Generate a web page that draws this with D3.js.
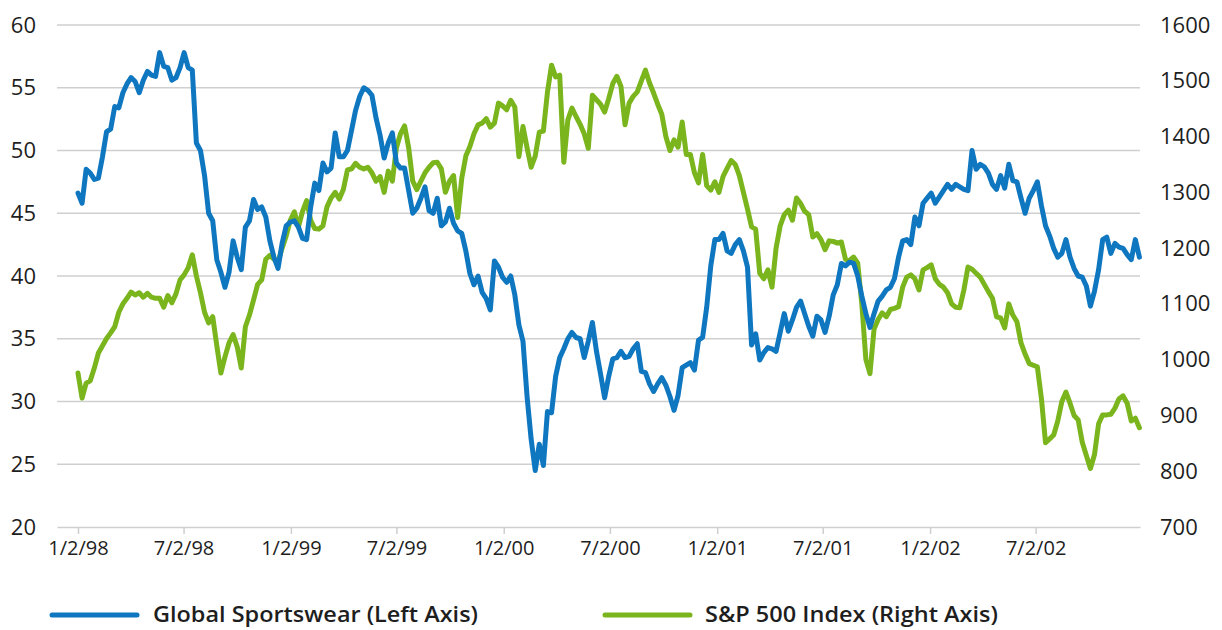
<!DOCTYPE html>
<html>
<head>
<meta charset="utf-8">
<script src="https://cdn.jsdelivr.net/npm/d3@7"></script>
<style>
  html, body { margin: 0; padding: 0; background: #fff; }
  svg { display: block; font-family: "Open Sans", "Noto Sans", sans-serif; }
</style>
</head>
<body>
<svg id="chart" width="1222" height="630"></svg>
<script>
// ---- Data (weekly closes, first week 1998-01-02) ----
const startDate = "1998-01-02";
const seriesNames = ["Global Sportswear (Left Axis)", "S&P 500 Index (Right Axis)"];
const leftTicks = [20, 25, 30, 35, 40, 45, 50, 55, 60];
const rightTicks = [700, 800, 900, 1000, 1100, 1200, 1300, 1400, 1500, 1600];
const xTickLabels = ["1/2/98", "7/2/98", "1/2/99", "7/2/99", "1/2/00", "7/2/00", "1/2/01", "7/2/01", "1/2/02", "7/2/02"];

const sportswear = [
  46.6, 45.8, 48.5, 48.2, 47.7, 47.8, 49.5, 51.5, 51.7, 53.5,
  53.4, 54.6, 55.3, 55.8, 55.5, 54.6, 55.6, 56.3, 56.0, 55.9,
  57.8, 56.7, 56.6, 55.6, 55.8, 56.6, 57.8, 56.6, 56.4, 50.6,
  50.0, 48.0, 45.0, 44.4, 41.3, 40.3, 39.1, 40.3, 42.8, 41.5,
  40.5, 43.9, 44.4, 46.1, 45.3, 45.5, 44.7, 42.8, 41.5, 40.6,
  42.6, 44.0, 44.3, 44.4, 43.9, 43.0, 42.9, 45.5, 47.4, 46.8,
  49.0, 48.3, 48.6, 51.4, 49.5, 49.5, 50.0, 51.6, 53.2, 54.3,
  55.0, 54.8, 54.4, 52.6, 51.2, 49.4, 50.6, 51.4, 49.0, 48.6,
  48.6, 46.8, 45.0, 45.4, 46.2, 47.1, 45.2, 45.0, 46.2, 44.0,
  44.3, 45.4, 44.2, 43.6, 43.4, 42.0, 40.2, 39.3, 40.0, 38.7,
  38.2, 37.3, 41.2, 40.7, 39.9, 39.5, 40.0, 38.5, 36.1, 34.8,
  30.4, 27.0, 24.5, 26.6, 24.9, 29.2, 29.1, 32.0, 33.5, 34.2,
  35.0, 35.5, 35.1, 35.0, 33.5, 34.8, 36.3, 34.0, 32.2, 30.3,
  32.0, 33.4, 33.5, 34.0, 33.5, 33.6, 34.2, 34.6, 32.4, 32.3,
  31.4, 30.8, 31.4, 31.9, 31.3, 30.4, 29.3, 30.5, 32.7, 32.9,
  33.1, 32.5, 34.9, 35.1, 37.5, 40.8, 42.9, 42.9, 43.4, 42.0,
  41.8, 42.5, 42.9, 42.0, 40.7, 34.5, 35.4, 33.3, 33.9, 34.3,
  34.2, 34.0, 35.5, 37.0, 35.6, 36.5, 37.5, 38.0, 37.0, 36.0,
  35.2, 36.8, 36.5, 35.5, 36.8, 38.5, 39.3, 41.0, 40.8, 41.1,
  41.0, 40.0, 38.4, 37.0, 35.9, 37.0, 38.0, 38.4, 38.9, 39.1,
  39.8, 41.5, 42.8, 42.9, 42.5, 44.7, 44.0, 45.8, 46.2, 46.6,
  45.8, 46.3, 46.8, 47.3, 46.9, 47.3, 47.1, 46.9, 46.8, 50.0,
  48.5, 48.9, 48.7, 48.2, 47.3, 46.9, 48.0, 47.0, 48.9, 47.6,
  47.5, 46.2, 45.0, 46.2, 46.8, 47.5, 45.6, 44.0, 43.2, 42.2,
  41.5, 41.8, 42.9, 41.5, 40.6, 40.0, 39.9, 39.2, 37.6, 38.8,
  40.5, 42.9, 43.1, 41.8, 42.6, 42.3, 42.2, 41.7, 41.3, 42.9,
  41.5
];

const sp500 = [
  976, 931, 958, 962, 985, 1012, 1025, 1038, 1048, 1059,
  1085, 1100, 1110, 1121, 1116, 1120, 1112, 1119, 1112, 1110,
  1110, 1094, 1115, 1102, 1118, 1143, 1152, 1165, 1188, 1150,
  1120, 1085, 1066, 1077, 1025, 976, 1005, 1030, 1045, 1023,
  985, 1059, 1080, 1107, 1135, 1143, 1180, 1187, 1180, 1175,
  1200, 1222, 1250, 1265, 1238, 1266, 1285, 1250, 1235, 1234,
  1240, 1274, 1290, 1300, 1288, 1305, 1340, 1342, 1352, 1345,
  1342, 1345, 1335, 1320, 1328, 1300, 1338, 1320, 1380, 1405,
  1419, 1380, 1320, 1305, 1320, 1335, 1345, 1353, 1354, 1342,
  1300, 1320, 1330, 1255, 1325, 1365, 1382, 1405, 1421, 1424,
  1432, 1417, 1424, 1460, 1455, 1448, 1465, 1453, 1364, 1418,
  1380, 1345, 1365, 1408, 1410, 1480, 1528, 1507, 1510, 1354,
  1430, 1451, 1436, 1422, 1405, 1379, 1474, 1466, 1458, 1444,
  1468, 1495, 1508, 1490, 1421, 1460, 1472, 1480, 1500, 1519,
  1496, 1478, 1458, 1440, 1400, 1375, 1394, 1381, 1426, 1368,
  1368, 1335, 1317, 1368, 1312, 1304, 1319, 1300, 1328, 1343,
  1357, 1350, 1330, 1300, 1270, 1238, 1234, 1155, 1145, 1161,
  1130, 1200, 1240, 1260, 1268, 1250, 1290, 1280, 1266, 1260,
  1220, 1226, 1215, 1197, 1213, 1212, 1209, 1211, 1180, 1178,
  1184, 1173, 1100, 1000, 975, 1055, 1072, 1084, 1077, 1090,
  1092, 1095, 1130, 1148, 1152, 1145, 1125, 1161, 1165, 1170,
  1145, 1135, 1130, 1120, 1100, 1094, 1093, 1125, 1166, 1162,
  1155, 1148, 1135, 1122, 1110, 1077, 1075, 1057, 1100, 1080,
  1068, 1030, 1010, 993, 990, 987, 930, 851, 858, 865,
  890, 925, 942, 922, 900, 892, 852, 828, 805, 830,
  885, 901, 901, 902, 913, 930, 935, 922, 890, 895,
  878
];

// ---- Setup ----
const svg = d3.select("#chart");
const parse = d3.timeParse("%Y-%m-%d");
const fmt = d3.timeFormat("%-m/%-d/%y");
const t0 = parse(startDate);
const dates = sportswear.map((_, i) => d3.timeWeek.offset(t0, i));

const x = d3.scaleTime()
  .domain([parse("1997-11-27"), parse("2002-12-28")])
  .range([57, 1140]);
const yL = d3.scaleLinear().domain([20, 60]).range([527, 25]);
const yR = d3.scaleLinear().domain([700, 1600]).range([527, 25]);

const BLUE = "#0f76c0";
const GREEN = "#7ab51d";
const GRID = "#cfcfcf";
const TEXT = "#1e1e1e";

// gridlines
svg.append("g")
  .selectAll("line")
  .data(leftTicks.slice(1))
  .join("line")
  .attr("x1", 57).attr("x2", 1140)
  .attr("y1", d => yL(d)).attr("y2", d => yL(d))
  .attr("stroke", GRID).attr("stroke-width", 1.5);

// x axis
const xTickDates = xTickLabels.map(s => d3.timeParse("%-m/%-d/%y")(s));
const xAxis = d3.axisBottom(x)
  .tickValues(xTickDates)
  .tickFormat(fmt)
  .tickSizeInner(7)
  .tickSizeOuter(0)
  .tickPadding(7);
const gx = svg.append("g").attr("transform", "translate(0,527)").call(xAxis);
gx.select(".domain").attr("stroke", GRID).attr("stroke-width", 1.5);
gx.selectAll(".tick line").attr("stroke", GRID).attr("stroke-width", 1.5);
gx.selectAll(".tick text")
  .attr("fill", TEXT)
  .style("font-size", "20px")
  .style("font-family", "'Open Sans', sans-serif");

// left axis
const gl = svg.append("g").attr("transform", "translate(36,0)")
  .call(d3.axisLeft(yL).tickValues(leftTicks).tickFormat(d3.format("d")).tickSize(0).tickPadding(0));
gl.select(".domain").remove();
gl.selectAll(".tick text")
  .attr("fill", TEXT)
  .style("font-size", "22px")
  .style("font-family", "'Open Sans', sans-serif");

// right axis
const gr = svg.append("g").attr("transform", "translate(1160,0)")
  .call(d3.axisRight(yR).tickValues(rightTicks).tickFormat(d3.format("d")).tickSize(0).tickPadding(0));
gr.select(".domain").remove();
gr.selectAll(".tick text")
  .attr("fill", TEXT)
  .style("font-size", "22px")
  .style("font-family", "'Open Sans', sans-serif");

// lines
const lineL = d3.line().x((d, i) => x(dates[i])).y(d => yL(d));
const lineR = d3.line().x((d, i) => x(dates[i])).y(d => yR(d));

svg.append("path")
  .datum(sp500)
  .attr("d", lineR)
  .attr("fill", "none")
  .attr("stroke", GREEN)
  .attr("stroke-width", 5)
  .attr("stroke-linejoin", "round")
  .attr("stroke-linecap", "round");

svg.append("path")
  .datum(sportswear)
  .attr("d", lineL)
  .attr("fill", "none")
  .attr("stroke", BLUE)
  .attr("stroke-width", 5)
  .attr("stroke-linejoin", "round")
  .attr("stroke-linecap", "round");

// legend
const legendItems = [
  { name: seriesNames[0], color: BLUE, x1: 52, x2: 137, tx: 153, tw: 325 },
  { name: seriesNames[1], color: GREEN, x1: 605, x2: 690, tx: 705, tw: 293 }
];
const lg = svg.append("g");
lg.selectAll("line")
  .data(legendItems)
  .join("line")
  .attr("x1", d => d.x1).attr("x2", d => d.x2)
  .attr("y1", 615).attr("y2", 615)
  .attr("stroke", d => d.color)
  .attr("stroke-width", 5)
  .attr("stroke-linecap", "round");
lg.selectAll("text")
  .data(legendItems)
  .join("text")
  .attr("x", d => d.tx)
  .attr("y", 622)
  .attr("textLength", d => d.tw)
  .attr("lengthAdjust", "spacingAndGlyphs")
  .attr("fill", TEXT)
  .style("font-size", "22px")
  .style("font-weight", "600")
  .style("font-family", "'Open Sans', sans-serif")
  .text(d => d.name);
</script>
</body>
</html>
